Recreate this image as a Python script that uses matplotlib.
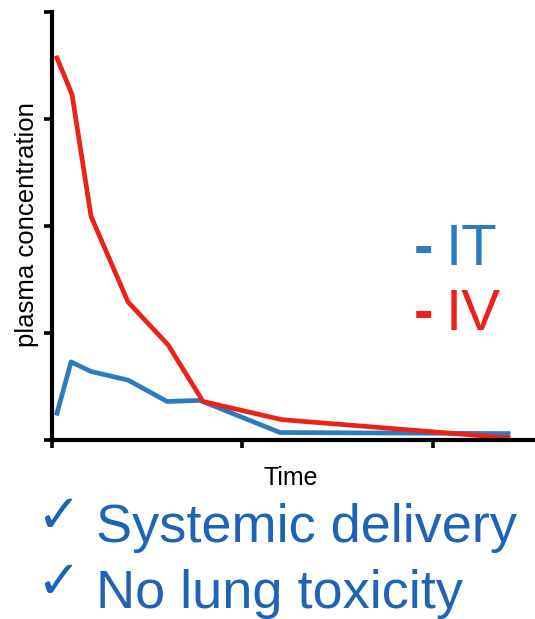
import matplotlib
matplotlib.use("Agg")
import matplotlib.pyplot as plt

# Concentration-time profiles (arbitrary units)
time_iv = [0.026, 0.105, 0.205, 0.399, 0.609, 0.793, 1.207, 2.394]
conc_iv = [3.57, 3.23, 2.09, 1.29, 0.89, 0.36, 0.19, 0.02]
time_it = [0.026, 0.100, 0.205, 0.399, 0.604, 0.777, 1.197, 2.394]
conc_it = [0.25, 0.73, 0.64, 0.56, 0.36, 0.37, 0.07, 0.06]

x_ticks = [0, 1, 2]
y_ticks = [0, 1, 2, 3, 4]

RED = "#ec2219"
BLUE = "#2b7bc1"
TEXT_BLUE = "#1f63b6"

W, H = 535, 619
fig = plt.figure(figsize=(W / 100, H / 100), dpi=100)
ax = fig.add_axes([52 / W, 1 - 440 / H, (533 - 52) / W, (440 - 12) / H])

ax.plot(time_it, conc_it, color=BLUE, lw=3.4, solid_joinstyle="round", clip_on=False)
ax.plot(time_iv, conc_iv, color=RED, lw=3.4, solid_joinstyle="round", clip_on=False)

ax.set_xlim(0, 2.525)
ax.set_ylim(0, 4)
ax.set_xticks(x_ticks)
ax.set_yticks(y_ticks)
ax.set_xticklabels([])
ax.set_yticklabels([])
for side in ("top", "right"):
    ax.spines[side].set_visible(False)
for side in ("left", "bottom"):
    ax.spines[side].set_linewidth(3.0)
    ax.spines[side].set_color("black")
ax.tick_params(direction="out", length=5.5, width=2.6, color="black")

# axis labels
fig.text(27 / W, 1 - 225 / H, "plasma concentration", rotation=90,
         ha="center", va="center", fontsize=18.5, family="Liberation Sans")
fig.text(291 / W, 1 - 485 / H, "Time", ha="center", va="baseline",
         fontsize=18, family="Liberation Sans")

# in-plot legend text
fig.text(414 / W, 1 - 265 / H, "-", ha="left", va="baseline",
         fontsize=42, color=BLUE, family="Liberation Sans", weight="bold")
fig.text(446 / W, 1 - 265 / H, "IT", ha="left", va="baseline",
         fontsize=42, color=BLUE, family="Liberation Sans")
fig.text(414 / W, 1 - 330 / H, "-", ha="left", va="baseline",
         fontsize=42, color=RED, family="Liberation Sans", weight="bold")
fig.text(446 / W, 1 - 330 / H, "IV", ha="left", va="baseline",
         fontsize=42, color=RED, family="Liberation Sans")

# bullet lines
for y_base, label in [(542, "Systemic delivery"), (608, "No lung toxicity")]:
    fig.text(36 / W, 1 - (y_base - 10) / H, "\u2713", ha="left", va="baseline",
             fontsize=38, color=TEXT_BLUE, family="DejaVu Sans")
    fig.text(96 / W, 1 - y_base / H, label, ha="left", va="baseline",
             fontsize=39, color=TEXT_BLUE, family="Liberation Sans")

fig.savefig("out.png", dpi=100, facecolor="white")
